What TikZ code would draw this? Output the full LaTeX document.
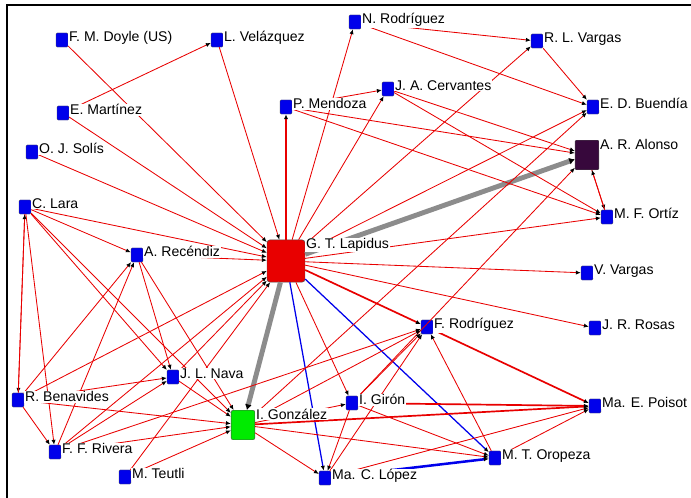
\documentclass[tikz,border=0pt]{standalone}
\usepackage{fontspec}
\setmainfont{Liberation Sans}
\usetikzlibrary{arrows.meta}

\definecolor{netblue}{RGB}{0,0,235}
\definecolor{netred}{RGB}{232,0,0}
\definecolor{netgreen}{RGB}{0,235,0}
\definecolor{netplum}{RGB}{55,8,60}
\definecolor{netgray}{RGB}{140,140,140}

\tikzset{
  actor/.style={rectangle,draw=black!70,line width=0.3pt,fill=netblue,minimum width=8.5pt,minimum height=10pt,inner sep=0pt,rounded corners=0.8pt},
  tag/.style={anchor=north west,fill=white,inner sep=0.5pt,font=\fontsize{10}{11}\selectfont},
  rel/.style={netred,line width=0.6pt,-{Latex[length=3.5pt,width=3pt,black]}},
  strong rel/.style={rel,line width=1.2pt},
  blue rel/.style={rel,draw=netblue,line width=0.9pt},
  gray rel/.style={rel,draw=netgray,line width=3.5pt,-{Latex[length=4pt,width=5pt,black]}},
}

\begin{document}
\begin{tikzpicture}[x=0.025cm,y=-0.025cm]
  \useasboundingbox (0,0) rectangle (691,498);
  \draw[line width=1.4pt] (7,498) -- (7,5) -- (691,5);

  \def\person#1#2#3{
    \node[actor] (#1) at (#2,#3){};
  }
  \def\tag#1#2{
    \node[tag] at ([yshift=1.5pt]#1.north east){#2};
  }

  %actors
  \person{doyle}{62}{40}
  \person{velazquez}{217}{40}
  \person{nrodriguez}{355}{22}
  \person{rlvargas}{537}{41}
  \person{cervantes}{388}{89}
  \person{mendoza}{286}{107}
  \person{buendia}{593}{107}
  \person{martinez}{63}{113}
  \person{solis}{32}{152}
  \person{lara}{25}{207}
  \person{ortiz}{607}{217}
  \person{recendiz}{137}{255}
  \person{vvargas}{587}{273}
  \person{rosas}{595}{328}
  \person{frodriguez}{427}{327}
  \person{nava}{173}{377}
  \person{benavides}{18}{400}
  \person{giron}{352}{403}
  \person{poisot}{595}{406}
  \person{rivera}{55}{452}
  \person{teutli}{125}{477}
  \person{lopez}{325}{478}
  \person{oropeza}{495}{458}
  \node[actor,fill=netred,minimum width=27pt,minimum height=30pt,rounded corners=2pt] (lapidus) at (286,261){};
  \node[actor,fill=netplum,minimum width=17pt,minimum height=21pt] (alonso) at (587,155){};
  \node[actor,fill=netgreen,minimum width=17pt,minimum height=21pt,rounded corners=1.5pt] (gonzalez) at (243,425){};

  %ties towards G. T. Lapidus
  \foreach \a in {doyle,martinez,velazquez,solis,lara,recendiz,benavides,rivera,nava,teutli}
    \draw[rel] (\a) -- (lapidus);
  %ties from G. T. Lapidus
  \foreach \b in {nrodriguez,rlvargas,cervantes,buendia,ortiz,vvargas,rosas,giron}
    \draw[rel] (lapidus) -- (\b);
  \draw[strong rel] (lapidus) -- (mendoza);
  \draw[strong rel] (lapidus) -- (frodriguez);
  \draw[gray rel] (lapidus) -- (alonso);
  \draw[gray rel] (lapidus) -- (gonzalez);
  \draw[blue rel] (lapidus) -- (lopez);
  \draw[blue rel] (lapidus) -- (oropeza);
  \draw[blue rel,line width=1.8pt] (lopez) -- (oropeza);

  %upper group
  \foreach \a/\b in {martinez/velazquez,mendoza/cervantes,mendoza/alonso,mendoza/ortiz,
      cervantes/alonso,cervantes/ortiz,nrodriguez/rlvargas,nrodriguez/buendia,
      rlvargas/buendia,alonso/ortiz,ortiz/alonso,gonzalez/buendia,giron/alonso}
    \draw[rel] (\a) -- (\b);

  %left group
  \foreach \a/\b in {lara/recendiz,lara/benavides,benavides/lara,lara/rivera,lara/nava,
      lara/gonzalez,recendiz/nava,recendiz/gonzalez,benavides/recendiz,rivera/recendiz,
      benavides/rivera,benavides/nava,benavides/gonzalez,rivera/nava,rivera/gonzalez,
      nava/gonzalez,teutli/gonzalez,rivera/frodriguez}
    \draw[rel] (\a) -- (\b);

  %lower group
  \foreach \a/\b in {gonzalez/giron,gonzalez/oropeza,gonzalez/lopez,gonzalez/frodriguez,
      giron/oropeza,giron/frodriguez,giron/lopez,lopez/frodriguez,lopez/poisot,
      oropeza/frodriguez,oropeza/poisot}
    \draw[rel] (\a) -- (\b);
  \draw[strong rel] (gonzalez) -- (poisot);
  \draw[strong rel] (giron) -- (poisot);
  \draw[strong rel] (frodriguez) -- (poisot);

  %labels
  \tag{doyle}{F. M. Doyle (US)}
  \tag{velazquez}{L. Velázquez}
  \tag{nrodriguez}{N. Rodríguez}
  \tag{rlvargas}{R. L. Vargas}
  \tag{cervantes}{J. A. Cervantes}
  \tag{mendoza}{P. Mendoza}
  \tag{buendia}{E. D. Buendía}
  \tag{alonso}{A. R. Alonso}
  \tag{martinez}{E. Martínez}
  \tag{solis}{O. J. Solís}
  \tag{lara}{C. Lara}
  \tag{ortiz}{M. F. Ortíz}
  \tag{lapidus}{G. T. Lapidus}
  \tag{recendiz}{A. Recéndiz}
  \tag{vvargas}{V. Vargas}
  \tag{rosas}{J. R. Rosas}
  \tag{frodriguez}{F. Rodríguez}
  \tag{nava}{J. L. Nava}
  \tag{benavides}{R. Benavides}
  \tag{giron}{I. Girón}
  \tag{poisot}{Ma. E. Poisot}
  \tag{gonzalez}{I. González}
  \tag{rivera}{F. F. Rivera}
  \tag{teutli}{M. Teutli}
  \tag{lopez}{Ma. C. López}
  \tag{oropeza}{M. T. Oropeza}
\end{tikzpicture}
\end{document}
